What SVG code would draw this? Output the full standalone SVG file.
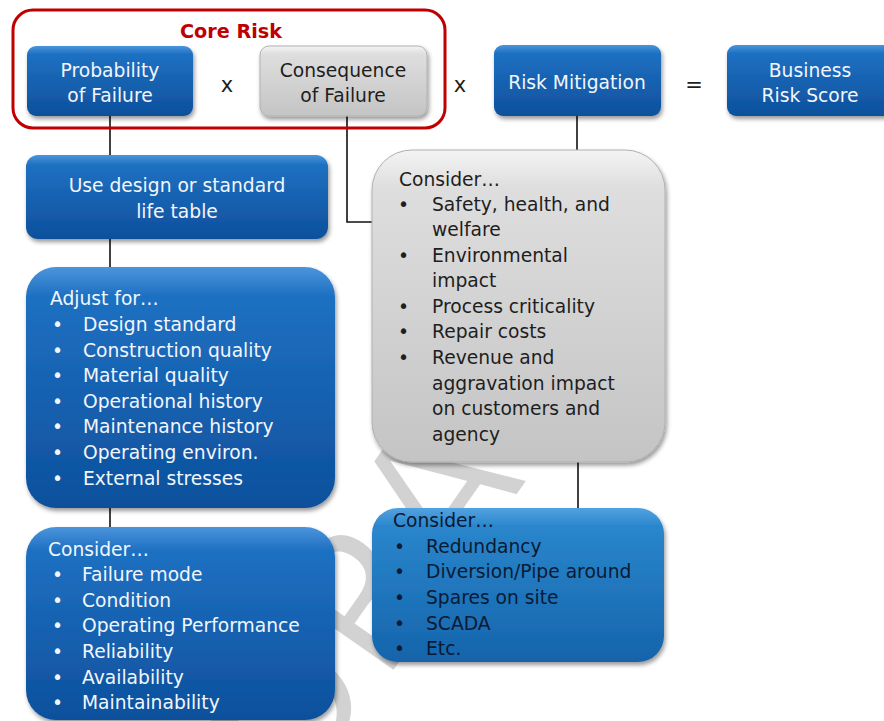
<svg xmlns="http://www.w3.org/2000/svg" width="884" height="721" viewBox="0 0 884 721">
<defs>
<linearGradient id="gBlue" x1="0" y1="0" x2="0" y2="1">
<stop offset="0" stop-color="#4a95dc"/>
<stop offset="0.12" stop-color="#1f70c2"/>
<stop offset="1" stop-color="#0d509c"/>
</linearGradient>
<linearGradient id="gBlue2" x1="0" y1="0" x2="0" y2="1">
<stop offset="0" stop-color="#52a2e0"/>
<stop offset="0.12" stop-color="#2a86cc"/>
<stop offset="1" stop-color="#1564ab"/>
</linearGradient>
<linearGradient id="gGray" x1="0" y1="0" x2="0" y2="1">
<stop offset="0" stop-color="#f4f4f4"/>
<stop offset="0.12" stop-color="#dedede"/>
<stop offset="1" stop-color="#c4c4c4"/>
</linearGradient>
<filter id="sh" x="-10%" y="-10%" width="125%" height="130%">
<feDropShadow dx="1.5" dy="3" stdDeviation="2" flood-color="#000" flood-opacity="0.4"/>
</filter>
</defs>
<style>
text{font-family:"DejaVu Sans","Verdana",sans-serif;font-size:18.7px}
.w{fill:#f2f6fb}
.k{fill:#1e1e1e}
.n{fill:#0b1a33}
.c{text-anchor:middle}
.blue{fill:url(#gBlue);filter:url(#sh)}
.blue2{fill:url(#gBlue2);filter:url(#sh)}
.gray{fill:url(#gGray);stroke:#b0b0b0;stroke-width:1;filter:url(#sh)}
.op{font-size:21px;fill:#1e1e1e;text-anchor:middle}
.conn{stroke:#111;stroke-width:1.6;fill:none}
.wm{font-size:190px;fill:#d2d2d2;stroke:#ffffff;stroke-width:3;text-anchor:middle}
</style>
<rect width="884" height="721" fill="#ffffff"/>
<text class="wm" x="0" y="0" transform="translate(478,552) rotate(-55)">DRAFT</text>

<g id="connectors">
<path class="conn" d="M110 116V155"/>
<path class="conn" d="M110 239V268"/>
<path class="conn" d="M110 508V528"/>
<path class="conn" d="M347 116V222H374"/>
<path class="conn" d="M577 116V151"/>
<path class="conn" d="M578 462V509"/>
</g>

<g id="core-risk">
<rect x="13" y="10" width="432" height="118" rx="20" fill="none" stroke="#c00000" stroke-width="3"/>
<text x="231" y="38" class="c" style="font-weight:bold;fill:#c00000;font-size:19.2px">Core Risk</text>
</g>

<g id="probability">
<rect class="blue" x="27" y="46" width="166" height="70" rx="9"/>
<text class="w c" x="110" y="77">Probability</text>
<text class="w c" x="110" y="102">of Failure</text>
</g>
<g id="op1"><text class="op" x="227" y="92">x</text></g>
<g id="consequence">
<rect class="gray" x="260" y="46" width="167" height="70" rx="9"/>
<text class="k c" x="343" y="77">Consequence</text>
<text class="k c" x="343" y="102">of Failure</text>
</g>
<g id="op2"><text class="op" x="460" y="92">x</text></g>
<g id="mitigation">
<rect class="blue" x="494" y="45" width="167" height="71" rx="9"/>
<text class="w c" x="577" y="89">Risk Mitigation</text>
</g>
<g id="op3"><text class="op" x="694" y="92">=</text></g>
<g id="business">
<rect class="blue" x="727" y="45" width="170" height="71" rx="9"/>
<text class="w c" x="810" y="77">Business</text>
<text class="w c" x="810" y="102">Risk Score</text>
</g>

<g id="life-table">
<rect class="blue" x="26" y="155" width="302" height="84" rx="12"/>
<text class="w c" x="177" y="192">Use design or standard</text>
<text class="w c" x="177" y="218">life table</text>
</g>

<g id="adjust">
<rect class="blue" x="26" y="267" width="309" height="241" rx="30"/>
<text class="w" x="50" y="305">Adjust for…</text>
<g class="w">
<text x="52" y="331">•</text><text x="83" y="331">Design standard</text>
<text x="52" y="357">•</text><text x="83" y="357">Construction quality</text>
<text x="52" y="382">•</text><text x="83" y="382">Material quality</text>
<text x="52" y="408">•</text><text x="83" y="408">Operational history</text>
<text x="52" y="433">•</text><text x="83" y="433">Maintenance history</text>
<text x="52" y="459">•</text><text x="83" y="459">Operating environ.</text>
<text x="52" y="485">•</text><text x="83" y="485">External stresses</text>
</g>
</g>

<g id="consider-failure">
<rect class="blue" x="26" y="527" width="309" height="193" rx="30"/>
<text class="w" x="48" y="556">Consider…</text>
<g class="w">
<text x="52" y="581">•</text><text x="82" y="581">Failure mode</text>
<text x="52" y="607">•</text><text x="82" y="607">Condition</text>
<text x="52" y="632">•</text><text x="82" y="632">Operating Performance</text>
<text x="52" y="658">•</text><text x="82" y="658">Reliability</text>
<text x="52" y="684">•</text><text x="82" y="684">Availability</text>
<text x="52" y="709">•</text><text x="82" y="709">Maintainability</text>
</g>
</g>

<g id="consider-consequence">
<rect class="gray" x="372" y="150" width="293" height="312" rx="40"/>
<text class="k" x="399" y="186">Consider…</text>
<g class="k">
<text x="398" y="211">•</text><text x="432" y="211">Safety, health, and</text>
<text x="432" y="236">welfare</text>
<text x="398" y="262">•</text><text x="432" y="262">Environmental</text>
<text x="432" y="287">impact</text>
<text x="398" y="313">•</text><text x="432" y="313">Process criticality</text>
<text x="398" y="338">•</text><text x="432" y="338">Repair costs</text>
<text x="398" y="364">•</text><text x="432" y="364">Revenue and</text>
<text x="432" y="390">aggravation impact</text>
<text x="432" y="415">on customers and</text>
<text x="432" y="441">agency</text>
</g>
</g>

<g id="consider-mitigation">
<rect class="blue2" x="372" y="508" width="292" height="154" rx="26"/>
<text class="n" x="393" y="527">Consider…</text>
<g class="n">
<text x="394" y="553">•</text><text x="426" y="553">Redundancy</text>
<text x="394" y="578">•</text><text x="426" y="578">Diversion/Pipe around</text>
<text x="394" y="604">•</text><text x="426" y="604">Spares on site</text>
<text x="394" y="630">•</text><text x="426" y="630">SCADA</text>
<text x="394" y="655">•</text><text x="426" y="655">Etc.</text>
</g>
</g>
</svg>
